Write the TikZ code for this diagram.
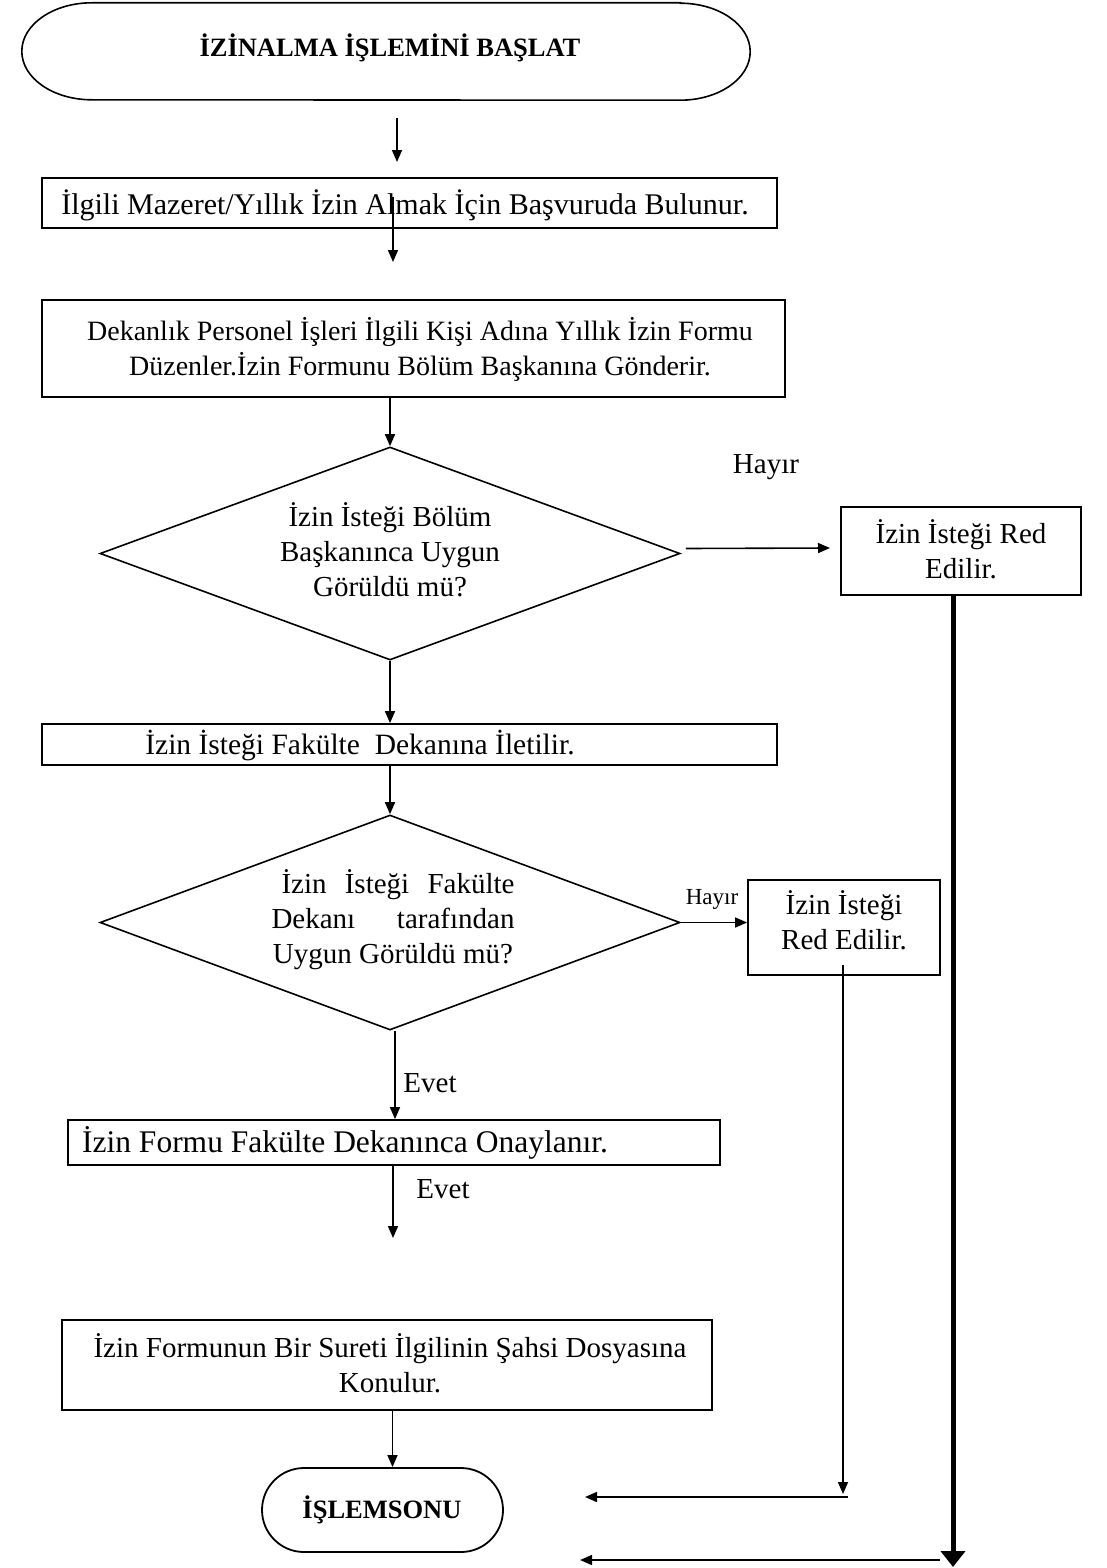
\documentclass[tikz,border=0pt]{standalone}
\usepackage{fontspec}
\setmainfont{Liberation Serif}
\usetikzlibrary{arrows.meta,shapes.geometric}
\begin{document}
\begin{tikzpicture}[x=1pt,y=-1pt,
  box/.style={draw,line width=1.8pt,rectangle,inner sep=0pt},
  term/.style={draw,line width=1.8pt,rectangle,rounded corners=#1,inner sep=0pt},
  decision/.style={draw,line width=1.6pt,diamond,inner sep=0pt},
  txt/.style={inner sep=0pt,align=center,font=\fontsize{29}{35}\selectfont},
  fs/.style={font=\fontsize{#1}{35}\selectfont},
  boldtxt/.style={inner sep=0pt,align=center,font=\fontsize{26.5}{31}\selectfont\bfseries},
  smalltxt/.style={inner sep=0pt,font=\fontsize{23}{28}\selectfont},
  arr/.style={line width=1.6pt,-{Triangle[length=12pt,width=10pt]}},
  thickarr/.style={line width=5pt,-{Triangle[length=16pt,width=24pt]}}
]
\useasboundingbox (0,0) rectangle (1106,1568);

% start terminator: a flat bar with elliptical ends
\node[minimum width=728pt,minimum height=97pt,inner sep=0pt] (start) at (386,51.5) {};
\draw[line width=1.6pt] ([xshift=-70pt]start.north east) -- ([xshift=70pt]start.north west)
  arc[start angle=90,end angle=270,x radius=70pt,y radius=48.5pt]
  -- ([xshift=-70pt]start.south east)
  arc[start angle=-90,end angle=90,x radius=70pt,y radius=48.5pt] -- cycle;
\node[boldtxt] (startt) at (390,48) {İZİNALMA İŞLEMİNİ BAŞLAT};

% process boxes
\node[box,minimum width=735pt,minimum height=50pt] (b1) at (409.5,203) {};
\node[txt,fs=30] (b1t) at (405,205) {İlgili Mazeret/Yıllık İzin Almak İçin Başvuruda Bulunur.};

\node[box,minimum width=743pt,minimum height=97pt] (b2) at (413.5,348.5) {};
\node[txt,fs=28] (b2t) at (420,349) {Dekanlık Personel İşleri İlgili Kişi Adına Yıllık İzin Formu\\Düzenler.İzin Formunu Bölüm Başkanına Gönderir.};

% first decision
\node[decision,minimum width=580pt,minimum height=213pt] (q1) at (390,553.5) {};
\node[txt] (q1t) at (390,550) {İzin İsteği Bölüm\\Başkanınca Uygun\\Görüldü mü?};

\node[txt] (no1) at (766,467) {Hayır};
\node[box,minimum width=240pt,minimum height=88pt] (r1) at (961,551) {};
\node[txt] (r1t) at (961,549) {İzin İsteği Red\\Edilir.};

\node[box,minimum width=735pt,minimum height=41pt] (b3) at (409.5,744.5) {};
\node[txt,fs=29.5] (b3t) at (360,746) {İzin İsteği Fakülte\ \ Dekanına İletilir.};

% second decision
\node[decision,minimum width=580pt,minimum height=215pt] (q2) at (390,922.5) {};
\node[txt] (q2t) at (393,920) {\makebox[243pt][s]{\hspace{10pt}İzin\hfil İsteği\hfil Fakülte}\\\makebox[243pt][s]{Dekanı\hfil tarafından}\\Uygun Görüldü mü?};

\node[smalltxt] (no2) at (712,899) {Hayır};
\node[box,minimum width=192pt,minimum height=95pt] (r2) at (844,927.5) {};
\node[txt] (r2t) at (844,920) {İzin İsteği\\Red Edilir.};

\node[txt] (yes1) at (430,1083) {Evet};
\node[box,minimum width=652pt,minimum height=45pt] (b4) at (394,1142.5) {};
\node[txt,fs=31.5] (b4t) at (345,1143) {İzin Formu Fakülte Dekanınca Onaylanır.};
\node[txt] (yes2) at (443,1189) {Evet};

\node[box,minimum width=650pt,minimum height=90pt] (b5) at (387,1365) {};
\node[txt] (b5t) at (390,1363) {İzin Formunun Bir Sureti İlgilinin Şahsi Dosyasına\\Konulur.};

% end terminator
\node[term=42pt,minimum width=241pt,minimum height=84pt] (end) at (382.5,1510) {};
\node[boldtxt] (endt) at (382,1510) {İŞLEMSONU};

% free ends of connectors
\coordinate (a1s) at (397,118);
\coordinate (a1e) at (397,162);
\coordinate (a2s) at (393,197);
\coordinate (a2e) at (393,262);
\coordinate (h1e) at (830,548);
\coordinate (a7e) at (393,1238);
\coordinate (r2s) at (843,965);
\coordinate (r2e) at (843,1494);
\coordinate (j1s) at (848,1497);
\coordinate (j1e) at (585,1497);
\coordinate (thke) at (953,1567);
\coordinate (j2s) at (940,1560);
\coordinate (j2e) at (580,1560);

% connectors
\draw[arr] (a1s) -- (a1e);
\draw[arr] (a2s) -- (a2e);
\draw[arr] (b2.south -| q1.north) -- (q1.north);
\draw[arr] (q1.south) -- (q1.south |- b3.north);
\draw[arr] (b3.south -| q2.north) -- (q2.north);
\draw[arr] (q1.east) ++(5,-5) coordinate (h1s) (h1s) -- (h1e);
\draw[arr] (q2.east) -- (r2.west |- q2.east);
\draw[arr] ([xshift=5pt]q2.south) -- ([xshift=5pt]q2.south |- b4.north);
\draw[arr] (b4.south -| a7e) -- (a7e);
\draw[arr] (b5.south -| end.north) ++(10,0) coordinate (b5o) (b5o) -- (b5o |- end.north);
\draw[arr] (r2s) -- (r2e);
\draw[arr] (j1s) -- (j1e);
\draw[thickarr] (r1.south -| thke) -- (thke);
\draw[arr] (j2s) -- (j2e);
\end{tikzpicture}
\end{document}
